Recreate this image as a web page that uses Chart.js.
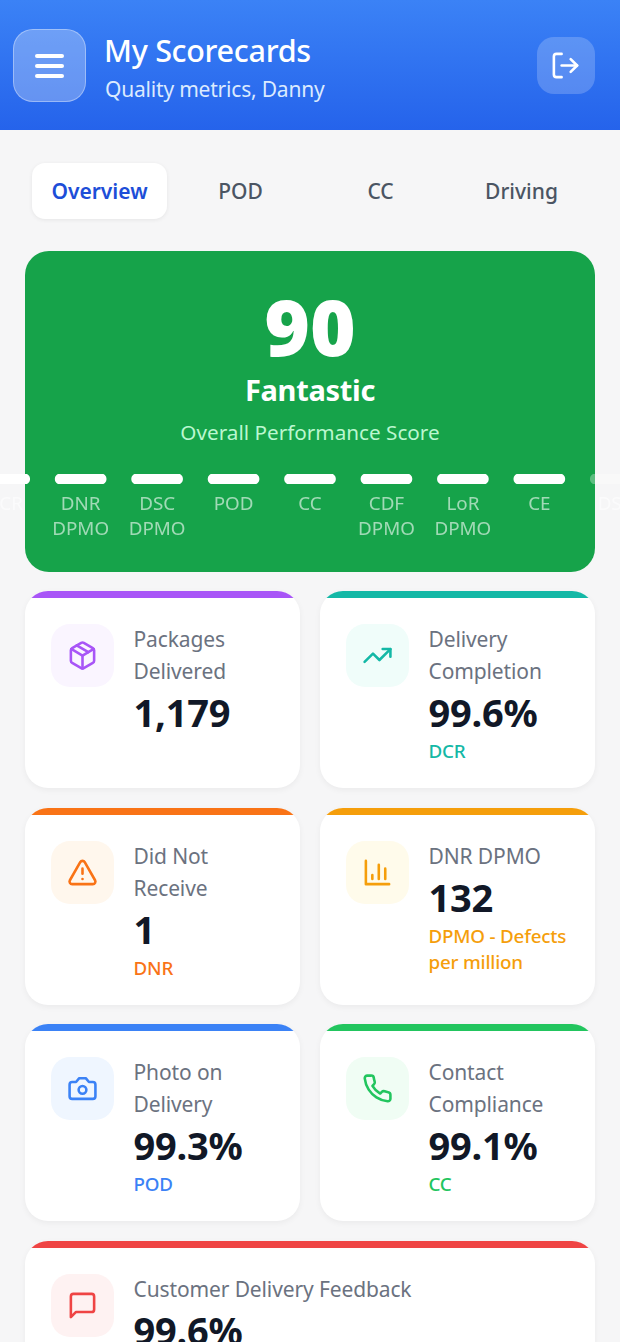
<!DOCTYPE html>
<html lang="en">
<head>
<meta charset="utf-8">
<title>My Scorecards</title>
<script src="https://cdn.jsdelivr.net/npm/chart.js@4"></script>
<style>
  html, body { margin: 0; height: 1342px; overflow: hidden; }
  body { position: relative; width: 620px; background: #f6f6f7; font-family: "Noto Sans", sans-serif; color: #111827; }
  svg { fill: none; stroke: currentColor; stroke-width: 2; stroke-linecap: round; stroke-linejoin: round; display: block; }

  .header { position: absolute; left: 0; top: 0; width: 620px; height: 130px; background: linear-gradient(180deg, #3b82f6, #2563eb); color: #fff; }
  .menu { position: absolute; left: 13px; top: 29px; width: 73px; height: 73px; box-sizing: border-box; border-radius: 20px; background: rgba(255,255,255,.28); border: 1px solid rgba(255,255,255,.35); }
  .menu i { position: absolute; left: 21px; width: 29px; height: 3.5px; border-radius: 2px; background: #fff; }
  .logout { position: absolute; left: 537px; top: 37px; width: 58px; height: 57px; border-radius: 17px; background: rgba(255,255,255,.2); }
  .logout svg { position: absolute; left: 13px; top: 13px; }
  .title { position: absolute; left: 104px; top: 30px; font-size: 30.5px; line-height: 40px; font-weight: 500; letter-spacing: -.3px; }
  .sub { position: absolute; left: 105px; top: 74px; font-size: 21px; line-height: 30px; color: #dbeafe; letter-spacing: -.2px; }

  .tab { position: absolute; top: 163px; width: 135px; height: 56px; line-height: 56px; text-align: center; font-size: 21px; font-weight: 500; color: #4b5563; }
  .tab.on { background: #fff; border-radius: 13px; color: #1d4ed8; font-weight: 600; box-shadow: 0 1px 4px rgba(0,0,0,.07); }

  .hero { position: absolute; left: 25px; top: 251px; width: 570px; height: 321px; border-radius: 24px; background: #16a34a; color: #fff; text-align: center; }
  .hero div { position: absolute; left: 0; width: 100%; }
  .score { top: 33px; font-size: 78px; line-height: 84px; font-weight: 900; }
  .grade { top: 118px; font-size: 29px; line-height: 42px; font-weight: 700; letter-spacing: -.3px; }
  .perf { top: 166px; font-size: 20.7px; line-height: 30px; color: #bbf7d0; }
  #stripWrap { position: absolute; left: -33.6px; top: 474px; width: 688px; height: 80px; }

  .card { position: absolute; width: 275px; height: 197px; background: #fff; border-radius: 23px; overflow: hidden; box-shadow: 0 2px 6px rgba(0,0,0,.05); }
  .card::before { content: ""; position: absolute; left: 0; top: 0; width: 100%; height: 7px; background: var(--c); }
  .c1 { left: 25px; } .c2 { left: 320px; }
  .tile { position: absolute; left: 26px; top: 32.5px; width: 63px; height: 63px; border-radius: 19px; background: var(--t); color: var(--c); }
  .tile svg { position: absolute; left: 16px; top: 16px; }
  .txt { position: absolute; left: 108.5px; top: 32px; right: 8px; }
  .lbl { font-size: 21px; line-height: 32px; color: #6b7280; letter-spacing: -.12px; }
  .val { font-size: 38px; line-height: 46px; font-weight: 700; margin-top: 2px; letter-spacing: -.2px; }
  .note { font-size: 18.8px; line-height: 26px; font-weight: 500; color: var(--c); margin-top: 3px; letter-spacing: -.2px; }
</style>
</head>
<body>
<div class="header">
  <div class="menu"><i style="top:24px"></i><i style="top:34px"></i><i style="top:44px"></i></div>
  <div class="title">My Scorecards</div>
  <div class="sub">Quality metrics, Danny</div>
  <div class="logout"><svg width="31" height="31" viewBox="0 0 24 24"><path d="M9 21H5a2 2 0 0 1-2-2V5a2 2 0 0 1 2-2h4"/><path d="M16 17l5-5-5-5"/><path d="M21 12H9"/></svg></div>
</div>

<div class="tab on" style="left:32px">Overview</div>
<div class="tab" style="left:173px">POD</div>
<div class="tab" style="left:313px">CC</div>
<div class="tab" style="left:454px">Driving</div>

<div class="hero">
  <div class="score">90</div>
  <div class="grade">Fantastic</div>
  <div class="perf">Overall Performance Score</div>
</div>

<div id="stripWrap"><canvas id="stripChart"></canvas></div>

<div class="card c1" style="top:591px;--c:#a855f7;--t:#faf5ff">
  <div class="tile"><svg width="31" height="31" viewBox="0 0 24 24"><path d="M16.5 9.4l-9-5.19"/><path d="M21 16V8a2 2 0 0 0-1-1.73l-7-4a2 2 0 0 0-2 0l-7 4A2 2 0 0 0 3 8v8a2 2 0 0 0 1 1.73l7 4a2 2 0 0 0 2 0l7-4A2 2 0 0 0 21 16z"/><path d="M3.27 6.96L12 12.01l8.73-5.05"/><path d="M12 22.08V12"/></svg></div>
  <div class="txt"><div class="lbl">Packages<br>Delivered</div><div class="val">1,179</div></div>
</div>
<div class="card c2" style="top:591px;--c:#14b8a6;--t:#f0fdfa">
  <div class="tile"><svg width="31" height="31" viewBox="0 0 24 24"><path d="M22 7l-8.5 8.5-5-5L2 17"/><path d="M16 7h6v6"/></svg></div>
  <div class="txt"><div class="lbl">Delivery<br>Completion</div><div class="val">99.6%</div><div class="note">DCR</div></div>
</div>

<div class="card c1" style="top:808px;--c:#f97316;--t:#fff7ed">
  <div class="tile"><svg width="31" height="31" viewBox="0 0 24 24"><path d="M21.73 18l-8-14a2 2 0 0 0-3.48 0l-8 14A2 2 0 0 0 4 21h16a2 2 0 0 0 1.73-3Z"/><path d="M12 9v4"/><path d="M12 17h.01"/></svg></div>
  <div class="txt"><div class="lbl">Did Not<br>Receive</div><div class="val">1</div><div class="note">DNR</div></div>
</div>
<div class="card c2" style="top:808px;--c:#f59e0b;--t:#fffbeb">
  <div class="tile"><svg width="31" height="31" viewBox="0 0 24 24"><path d="M3 3v18h18"/><path d="M8 17v-3"/><path d="M13 17V6"/><path d="M18 17V9"/></svg></div>
  <div class="txt"><div class="lbl">DNR DPMO</div><div class="val">132</div><div class="note">DPMO - Defects<br>per million</div></div>
</div>

<div class="card c1" style="top:1024px;--c:#3b82f6;--t:#eff6ff">
  <div class="tile"><svg width="31" height="31" viewBox="0 0 24 24"><path d="M14.5 4h-5L7 7H4a2 2 0 0 0-2 2v9a2 2 0 0 0 2 2h16a2 2 0 0 0 2-2V9a2 2 0 0 0-2-2h-3l-2.5-3z"/><circle cx="12" cy="13" r="3"/></svg></div>
  <div class="txt"><div class="lbl">Photo on<br>Delivery</div><div class="val">99.3%</div><div class="note">POD</div></div>
</div>
<div class="card c2" style="top:1024px;--c:#22c55e;--t:#f0fdf4">
  <div class="tile"><svg width="31" height="31" viewBox="0 0 24 24"><path d="M22 16.92v3a2 2 0 0 1-2.18 2 19.79 19.79 0 0 1-8.63-3.07 19.5 19.5 0 0 1-6-6 19.79 19.79 0 0 1-3.07-8.67A2 2 0 0 1 4.11 2h3a2 2 0 0 1 2 1.72 12.84 12.84 0 0 0 .7 2.81 2 2 0 0 1-.45 2.11L8.09 9.91a16 16 0 0 0 6 6l1.27-1.27a2 2 0 0 1 2.11-.45 12.84 12.84 0 0 0 2.81.7A2 2 0 0 1 22 16.92z"/></svg></div>
  <div class="txt"><div class="lbl">Contact<br>Compliance</div><div class="val">99.1%</div><div class="note">CC</div></div>
</div>

<div class="card c1" style="top:1241px;width:570px;--c:#ef4444;--t:#fef2f2">
  <div class="tile"><svg width="31" height="31" viewBox="0 0 24 24"><path d="M21 15a2 2 0 0 1-2 2H7l-4 4V5a2 2 0 0 1 2-2h14a2 2 0 0 1 2 2z"/></svg></div>
  <div class="txt"><div class="lbl">Customer Delivery Feedback</div><div class="val">99.6%</div></div>
</div>

<script>
  const stripLabels = ['DCR', ['DNR', 'DPMO'], ['DSC', 'DPMO'], 'POD', 'CC', ['CDF', 'DPMO'], ['LoR', 'DPMO'], 'CE', 'DSB'];
  const stripValues = [100, 100, 100, 100, 100, 100, 100, 100, 100];

  const strip = document.getElementById('stripChart').getContext('2d');
  const stripChart = new Chart(strip, {
    type: 'bar',
    data: {
      labels: stripLabels,
      datasets: [{
        data: stripValues,
        // 最後の1本だけ薄い
        backgroundColor: c => c.dataIndex === stripValues.length - 1 ? 'rgba(255,255,255,.3)' : '#fff',
        barThickness: 51,
        borderRadius: 5,
        borderSkipped: false
      }]
    },
    options: {
      animation: false,
      maintainAspectRatio: false,
      plugins: { legend: { display: false }, tooltip: { enabled: false } },
      scales: {
        x: {
          afterFit: s => { s.height = 70; },
          grid: { display: false, drawTicks: false },
          border: { display: false },
          ticks: {
            autoSkip: false,
            maxRotation: 0,
            padding: 8,
            color: 'rgba(255,255,255,.6)',
            font: { family: '"Noto Sans"', size: 18.8, lineHeight: 1.33 }
          }
        },
        y: { display: false, min: 0, max: 100 }
      }
    }
  });
</script>
</body>
</html>
